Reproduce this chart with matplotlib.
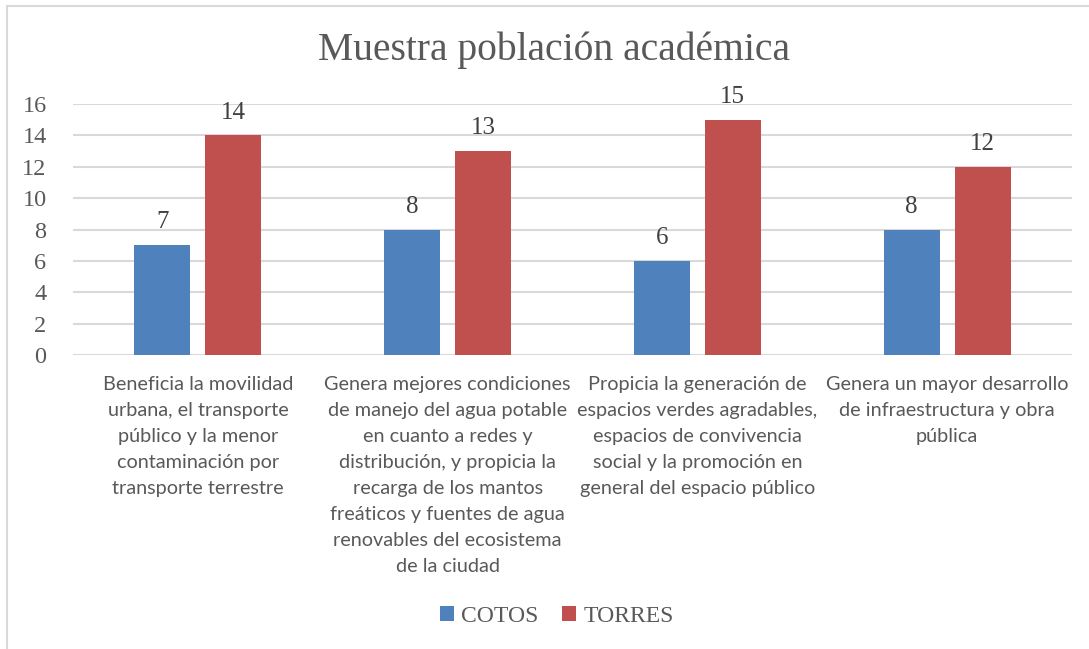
import numpy as np
import matplotlib.pyplot as plt
from matplotlib.patches import Rectangle

# survey results per statement
categorias = [
    "Beneficia la movilidad\nurbana, el transporte\npúblico y la menor\ncontaminación por\ntransporte terrestre",
    "Genera mejores condiciones\nde manejo del agua potable\nen cuanto a redes y\ndistribución, y propicia la\nrecarga de los mantos\nfreáticos y fuentes de agua\nrenovables del ecosistema\nde la ciudad",
    "Propicia la generación de\nespacios verdes agradables,\nespacios de convivencia\nsocial y la promoción en\ngeneral del espacio público",
    "Genera un mayor desarrollo\nde infraestructura y obra\npública",
]
cotos = [7, 8, 6, 8]
torres = [14, 13, 15, 12]
series = ["COTOS", "TORRES"]

azul = "#4F81BD"
rojo = "#C0504D"
gris_texto = "#595959"
gris_linea = "#D9D9D9"
serif = ["Liberation Serif", "DejaVu Serif"]
sans = ["Lato", "DejaVu Sans"]

W, H = 1089, 649
fig = plt.figure(figsize=(W / 100, H / 100), dpi=100)

# outer chart frame
fig.patches.append(Rectangle((7 / W, -0.1), 1.2, 1 - 6 / H + 0.1,
                             transform=fig.transFigure, fill=False,
                             edgecolor=gris_linea, linewidth=1.5))

ax = fig.add_axes([73 / W, (H - 355) / H, 999 / W, 251 / H])

x = np.arange(len(categorias))
ancho = 0.224
sep = 0.284
b1 = ax.bar(x - sep / 2, cotos, ancho, color=azul, label=series[0], zorder=3)
b2 = ax.bar(x + sep / 2, torres, ancho, color=rojo, label=series[1], zorder=3)

for barras in (b1, b2):
    for r in barras:
        ax.text(r.get_x() + r.get_width() / 2, r.get_height() + 0.75,
                f"{r.get_height():.0f}", ha="center", va="bottom",
                fontsize=18, color="#404040", family=serif)

ax.set_xlim(-0.5, len(categorias) - 0.5)
ax.set_ylim(0, 16)
ax.set_yticks(range(0, 17, 2))
ax.yaxis.grid(True, color=gris_linea, linewidth=1.5, zorder=0)
ax.set_axisbelow(True)
for s in ax.spines.values():
    s.set_visible(False)
ax.tick_params(axis="y", length=0, pad=19, labelsize=17.5, labelcolor=gris_texto)
for t in ax.get_yticklabels():
    t.set_family(serif)

ax.set_xticks(x)
ax.set_xticklabels(categorias, fontsize=14.3, color=gris_texto, family=sans,
                   linespacing=1.64, multialignment="center")
ax.tick_params(axis="x", length=0, pad=15)

fig.text(554 / W, 1 - 50 / H, "Muestra población académica", ha="center",
         va="center", fontsize=28.5, color=gris_texto, family=serif)

fig.legend(handles=[b1, b2], labels=series, loc="center",
           bbox_to_anchor=(557 / W, 1 - 616 / H), ncol=2, frameon=False,
           prop={"family": serif, "size": 17}, labelcolor=gris_texto,
           handlelength=0.6, handleheight=0.6, handletextpad=0.3,
           columnspacing=1.0)

fig.savefig("out.png", dpi=100)
